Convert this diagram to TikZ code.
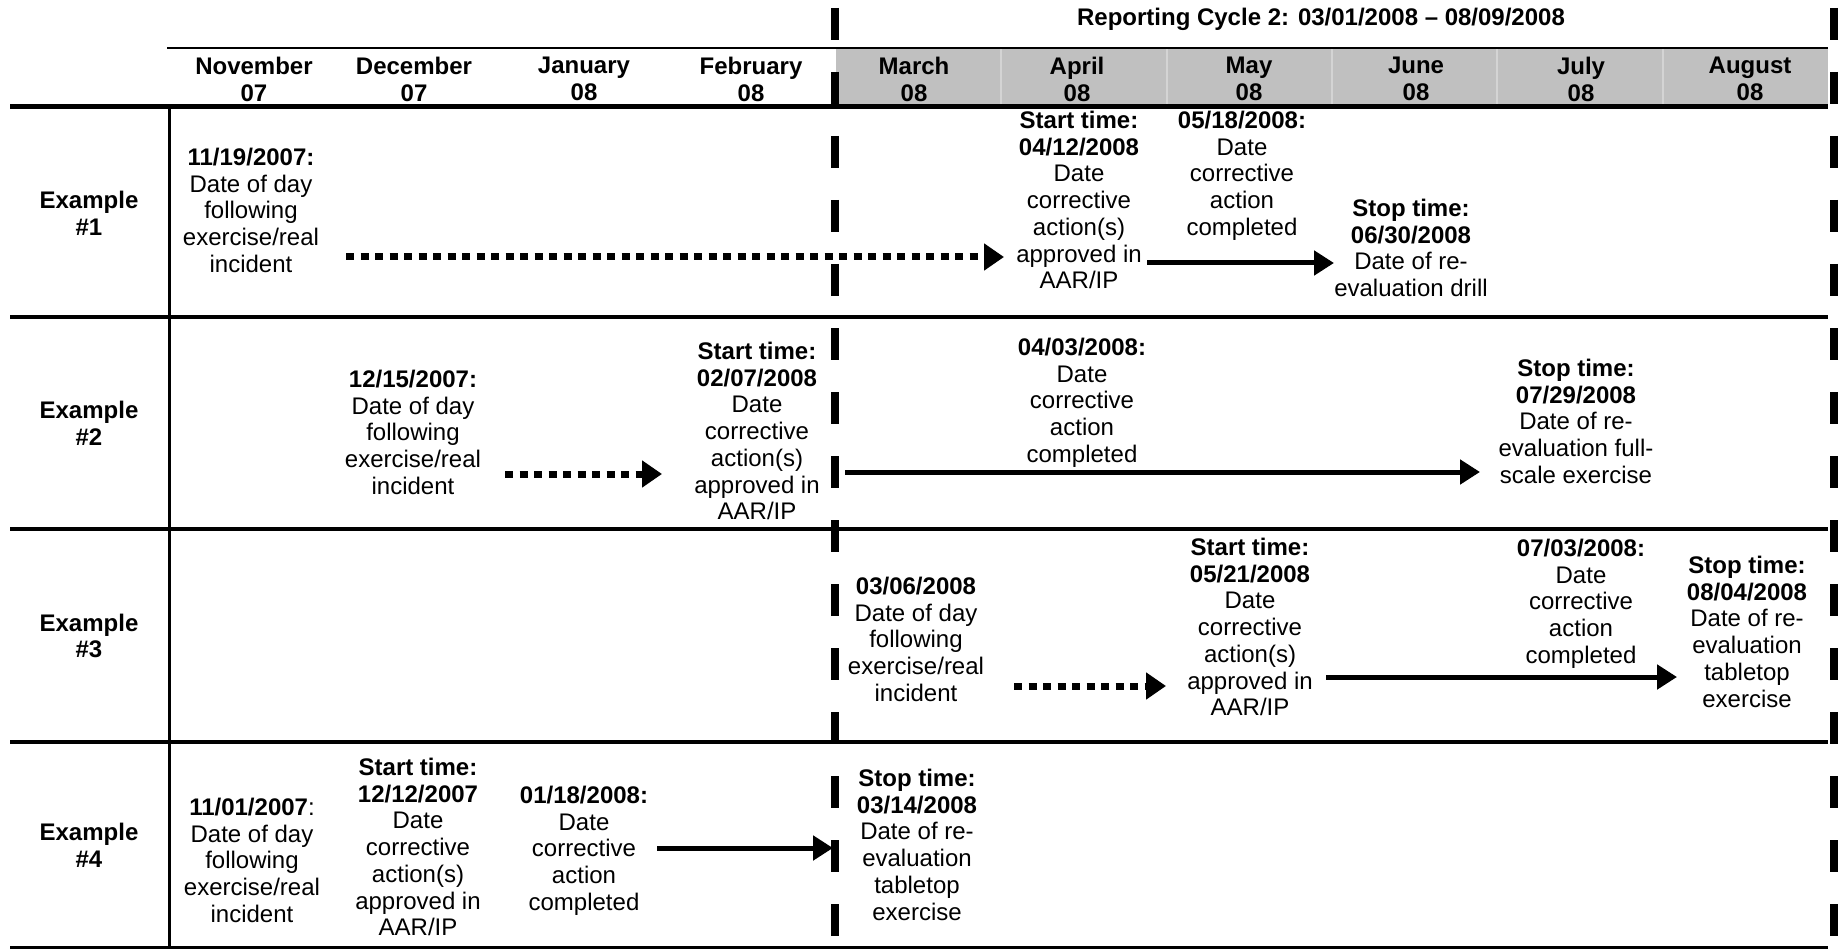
\documentclass[tikz,border=0pt]{standalone}
\usepackage{fontspec}
\setmainfont{Liberation Sans}
\usetikzlibrary{arrows.meta}
\definecolor{hdrgrey}{RGB}{192,192,192}
\definecolor{sepgrey}{RGB}{212,212,212}
\begin{document}
\begin{tikzpicture}[x=1pt,y=-1pt,
  txt/.style={font=\fontsize{24}{26.7}\selectfont, align=center, inner sep=0pt, anchor=north},
  hdr/.style={font=\fontsize{24}{26.7}\selectfont\bfseries, align=center, inner sep=0pt, anchor=north},
  lbl/.style={font=\fontsize{24}{26.7}\selectfont\bfseries, align=center, inner sep=0pt},
  solidarr/.style={line width=5pt, -{Triangle[length=20pt,width=24pt]}},
  dotarr/.style={line width=7pt, dash pattern=on 8pt off 6.5pt, -{Triangle[length=20pt,width=26pt]}},
  thickrule/.style={line width=5pt},
  rowrule/.style={line width=3.5pt},
  cycleline/.style={line width=8pt, dash pattern=on 32pt off 32pt},
  colsep/.style={sepgrey, line width=2pt}]
\useasboundingbox (0,0) rectangle (1845,952);
% header grey
\fill[hdrgrey] (836,48) rectangle (1828,105);
\foreach \xx in {1001,1167,1332,1497,1663} \draw[colsep] (\xx,49) -- (\xx,105);
% rules
\draw[line width=2.5pt] (167,48) -- (1828,48);
\draw[thickrule] (10,107) -- (1828,107);
\draw[rowrule] (10,317) -- (1828,317);
\draw[rowrule] (10,529) -- (1828,529);
\draw[rowrule] (10,742) -- (1828,742);
\draw[line width=3pt] (10,947) -- (1828,947);
\draw[line width=3pt] (169,107) -- (169,948);
% reporting cycle lines
\draw[cycleline] (835,8) -- (835,945);
\draw[cycleline] (1834,8) -- (1834,945);
% header text
\node[hdr] (cyc) at (1321,8) {Reporting Cycle 2: 03/01/2008 \textendash{} 08/09/2008};
\node[hdr] (nov) at (254,57) {November\\07};
\node[hdr] (dec) at (414,57) {December\\07};
\node[hdr] (jan) at (584,57) {January\\08};
\node[hdr] (feb) at (751,57) {February\\08};
\node[hdr] (mar) at (914,57) {March\\08};
\node[hdr] (apr) at (1077,57) {April\\08};
\node[hdr] (may) at (1249,57) {May\\08};
\node[hdr] (jun) at (1416,57) {June\\08};
\node[hdr] (jul) at (1581,57) {July\\08};
\node[hdr] (aug) at (1750,57) {August\\08};
% row labels
\node[lbl] (ex1) at (89,213) {Example\\\#1};
\node[lbl] (ex2) at (89,423) {Example\\\#2};
\node[lbl] (ex3) at (89,636) {Example\\\#3};
\node[lbl] (ex4) at (89,845) {Example\\\#4};
% row 1
\node[txt] (a1) at (251,148) {\textbf{11/19/2007:}\\Date of day\\following\\exercise/real\\incident};
\node[txt] (b1) at (1079,111) {\textbf{Start time:}\\\textbf{04/12/2008}\\Date\\corrective\\action(s)\\approved in\\AAR/IP};
\node[txt] (c1) at (1242,111) {\textbf{05/18/2008:}\\Date\\corrective\\action\\completed};
\node[txt] (d1) at (1411,199) {\textbf{Stop time:}\\\textbf{06/30/2008}\\Date of re-\\evaluation drill};
% row 2
\node[txt] (a2) at (413,370) {\textbf{12/15/2007:}\\Date of day\\following\\exercise/real\\incident};
\node[txt] (b2) at (757,342) {\textbf{Start time:}\\\textbf{02/07/2008}\\Date\\corrective\\action(s)\\approved in\\AAR/IP};
\node[txt] (c2) at (1082,338) {\textbf{04/03/2008:}\\Date\\corrective\\action\\completed};
\node[txt] (d2) at (1576,359) {\textbf{Stop time:}\\\textbf{07/29/2008}\\Date of re-\\evaluation full-\\scale exercise};
% row 3
\node[txt] (a3) at (916,577) {\textbf{03/06/2008}\\Date of day\\following\\exercise/real\\incident};
\node[txt] (b3) at (1250,538) {\textbf{Start time:}\\\textbf{05/21/2008}\\Date\\corrective\\action(s)\\approved in\\AAR/IP};
\node[txt] (c3) at (1581,539) {\textbf{07/03/2008:}\\Date\\corrective\\action\\completed};
\node[txt] (d3) at (1747,556) {\textbf{Stop time:}\\\textbf{08/04/2008}\\Date of re-\\evaluation\\tabletop\\exercise};
% row 4
\node[txt] (a4) at (252,798) {\textbf{11/01/2007}:\\Date of day\\following\\exercise/real\\incident};
\node[txt] (b4) at (418,758) {\textbf{Start time:}\\\textbf{12/12/2007}\\Date\\corrective\\action(s)\\approved in\\AAR/IP};
\node[txt] (c4) at (584,786) {\textbf{01/18/2008:}\\Date\\corrective\\action\\completed};
\node[txt] (d4) at (917,769) {\textbf{Stop time:}\\\textbf{03/14/2008}\\Date of re-\\evaluation\\tabletop\\exercise};
% arrow end points
\coordinate (p1s) at (346,257); \coordinate (p1e) at (1004,257);
\coordinate (s1s) at (1147,263); \coordinate (s1e) at (1334,263);
\coordinate (p2s) at (505,474); \coordinate (p2e) at (662,474);
\coordinate (s2s) at (845,472); \coordinate (s2e) at (1480,472);
\coordinate (p3s) at (1014,686); \coordinate (p3e) at (1166,686);
\coordinate (s3s) at (1326,677); \coordinate (s3e) at (1677,677);
\coordinate (s4s) at (657,848); \coordinate (s4e) at (833,848);
\draw[dotarr] (p1s) -- (p1e);
\draw[solidarr] (s1s) -- (s1e);
\draw[dotarr] (p2s) -- (p2e);
\draw[solidarr] (s2s) -- (s2e);
\draw[dotarr] (p3s) -- (p3e);
\draw[solidarr] (s3s) -- (s3e);
\draw[solidarr] (s4s) -- (s4e);
\end{tikzpicture}
\end{document}
